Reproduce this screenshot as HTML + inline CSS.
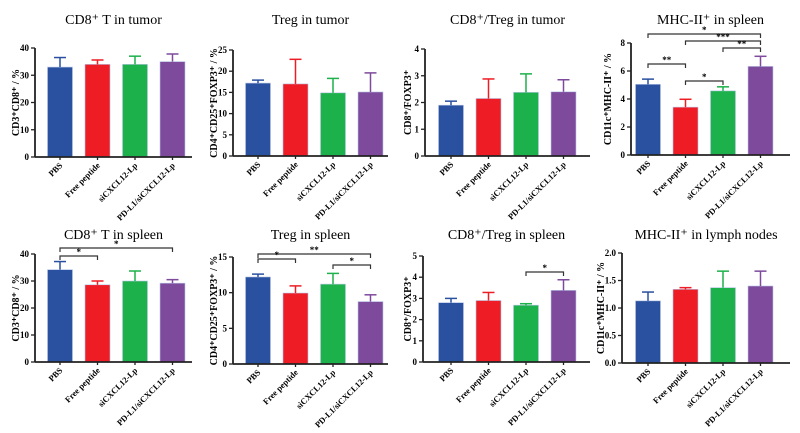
<!DOCTYPE html>
<html><head><meta charset="utf-8"><style>
body{margin:0;background:#fff}
svg{display:block;font-family:"Liberation Serif",serif}
</style></head><body>
<svg id="c" width="800" height="433"></svg>
<script>
const categories=["PBS","Free peptide","siCXCL12-Lp","PD-L1/siCXCL12-Lp"];
const colors=["#2a50a0","#ee1c25","#1db14b","#7e4a9c"];
const titles=["CD8⁺ T in tumor","Treg in tumor","CD8⁺/Treg in tumor","MHC-II⁺ in spleen","CD8⁺ T in spleen","Treg in spleen","CD8⁺/Treg in spleen","MHC-II⁺ in lymph nodes"];
const yTitles=["CD3⁺CD8⁺ / %","CD4⁺CD25⁺FOXP3⁺ / %","CD8⁺/FOXP3⁺","CD11c⁺MHC-II⁺ / %","CD3⁺CD8⁺ / %","CD4⁺CD25⁺FOXP3⁺ / %","CD8⁺/FOXP3⁺","CD11c⁺MHC-II⁺ / %"];
const means=[[33,34,34,35],[17.2,17,14.9,15.1],[1.9,2.15,2.38,2.4],[5.05,3.42,4.58,6.33],[34.2,28.6,30,29.2],[12.2,9.95,11.2,8.75],[2.8,2.9,2.68,3.38],[1.13,1.34,1.37,1.40]];
const errTops=[[36.5,35.6,37,37.8],[17.9,22.8,18.3,19.6],[2.05,2.88,3.07,2.85],[5.42,3.98,4.87,7.05],[37.2,30,33.7,30.5],[12.6,10.95,12.7,9.7],[3.0,3.28,2.75,3.88],[1.29,1.37,1.67,1.67]];
const yMax=[40,25,4,8,40,15,5,2];
const yStep=[10,5,1,2,10,5,1,0.5];
const yDec=[0,0,0,0,0,0,0,1];
// significance: [panel, from, to, label]
const sigs=[[3,0,3,"*"],[3,1,3,"***"],[3,2,3,"**"],[3,0,1,"**"],[3,1,2,"*"],[4,0,3,"*"],[4,0,1,"*"],[5,0,3,"**"],[5,0,1,"*"],[5,2,3,"*"],[6,2,3,"*"]];
// layout (not data)
const L=[
 {ax:35,x0:60,y0:157,yT:48,end:192,yl:15,ty:24},
 {ax:233,x0:258,y0:156,yT:50,end:388,yl:213,ty:24},
 {ax:425,x0:451,y0:156,yT:49,end:590,yl:407,ty:24},
 {ax:631,x0:648,y0:155,yT:43,end:790,yl:607,ty:24},
 {ax:35,x0:60,y0:362,yT:254,end:192,yl:15,ty:239},
 {ax:233,x0:258,y0:364,yT:257,end:388,yl:213,ty:239},
 {ax:423,x0:451,y0:362,yT:256,end:590,yl:407,ty:239},
 {ax:622,x0:648,y0:363,yT:253,end:790,yl:600,ty:239}];
const sigY={"3-0-3":34,"3-1-3":41,"3-2-3":48,"3-0-1":64,"3-1-2":81,"4-0-3":248,"4-0-1":256,"5-0-3":254,"5-0-1":259,"5-2-3":265,"6-2-3":272};
const NS="http://www.w3.org/2000/svg";
const svg=document.getElementById("c");
function mk(t,a,p){const e=document.createElementNS(NS,t);for(const k in a)e.setAttribute(k,a[k]);(p||svg).appendChild(e);return e;}
const bw=25,sp=37.5;
L.forEach((l,p)=>{
 const g=mk("g",{});
 
 
 const ys=v=>l.y0-(v/yMax[p])*(l.y0-l.yT);
 const xs=i=>l.x0+i*sp;
 const t=mk("text",{x:(l.ax+l.end)/2,y:l.ty,"text-anchor":"middle","font-size":"14"},g);t.textContent=titles[p];
 
 
 const yt=mk("text",{x:0,y:0,"text-anchor":"middle","font-size":"10","font-weight":"bold",transform:`translate(${l.yl+4},${(l.y0+l.yT)/2}) rotate(-90)`},g);yt.textContent=yTitles[p];
 
 
 means[p].forEach((m,i)=>{
  const x=xs(i),c=colors[i];
  const r=mk("rect",{x:x-bw/2,y:ys(m),width:bw,height:l.y0-ys(m),fill:c,stroke:"#b9c7e6","stroke-width":0.6},g);
  
  
  mk("line",{x1:x,x2:x,y1:ys(m),y2:ys(errTops[p][i]),stroke:c,"stroke-width":1.5},g);
  mk("line",{x1:x-6,x2:x+6,y1:ys(errTops[p][i]),y2:ys(errTops[p][i]),stroke:c,"stroke-width":1.5},g);
  const xl=mk("text",{x:0,y:0,"text-anchor":"end","font-size":"8.5","font-weight":"bold",transform:`translate(${x+3},${l.y0+9}) rotate(-45)`},g);xl.textContent=categories[i];
  
  
  mk("line",{x1:x,x2:x,y1:l.y0,y2:l.y0+3,stroke:"#222","stroke-width":1.3},g);
 });
 mk("line",{x1:l.ax,x2:l.ax,y1:l.yT,y2:l.y0,stroke:"#222","stroke-width":1.8},g);
 mk("line",{x1:l.ax,x2:l.end,y1:l.y0,y2:l.y0,stroke:"#222","stroke-width":1.8},g);
 for(let v=0;v<=yMax[p]+1e-9;v+=yStep[p]){
  mk("line",{x1:l.ax-4,x2:l.ax,y1:ys(v),y2:ys(v),stroke:"#222","stroke-width":1.3},g);
  const tt=mk("text",{x:l.ax-6,y:ys(v)+3,"text-anchor":"end","font-size":"9","font-weight":"bold"},g);tt.textContent=v.toFixed(yDec[p]);
  
  
 }
});
sigs.forEach(s=>{
 const [p,a,b,lab]=s,l=L[p];
 const y=sigY[p+"-"+a+"-"+b];
 const x1=l.x0+a*sp,x2=l.x0+b*sp;
 const pl=mk("polyline",{points:`${x1},${y+4} ${x1},${y} ${x2},${y} ${x2},${y+4}`,fill:"none",stroke:"#333","stroke-width":1.2});
 
 
 const st=mk("text",{x:(x1+x2)/2,y:y-1,"text-anchor":"middle","font-size":"9","font-weight":"bold"});st.textContent=lab;
 
 
});
</script>
</body></html>
